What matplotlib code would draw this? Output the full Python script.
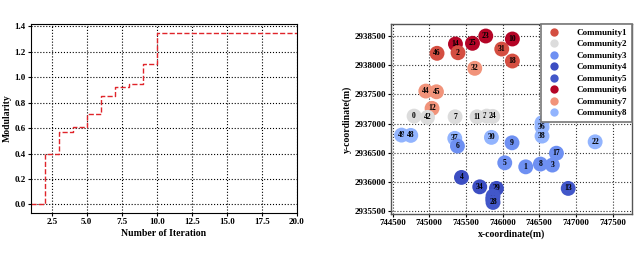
import numpy as np
import matplotlib
matplotlib.use("Agg")
import matplotlib.pyplot as plt
from matplotlib.lines import Line2D
from matplotlib.ticker import FormatStrFormatter

plt.rcParams['font.family'] = ['Liberation Serif', 'DejaVu Serif']
plt.rcParams['font.weight'] = 'bold'

# left panel: modularity per iteration
iteration = list(range(1, 21))
modularity = [0.0, 0.40, 0.57, 0.61, 0.71, 0.85, 0.92, 0.95, 1.10, 1.35,
              1.35, 1.35, 1.35, 1.35, 1.35, 1.35, 1.35, 1.35, 1.35, 1.35]

# right panel: nodes
node_id = [46, 14, 2, 25, 23, 31, 10, 18, 32, 16,
           44, 45, 12, 0, 42, 7, 11, 20, 24,
           49, 48, 37, 6, 30, 9, 35, 36, 38, 22,
           17, 5, 1, 8, 3, 4, 34, 29, 40, 43, 28, 13]
node_x = [745107, 745358, 745393, 745590, 745771, 745989, 746134, 746134, 745621, 746629,
          744954, 745099, 745039, 744794, 744977, 745353, 745652, 745784, 745866,
          744623, 744749, 745349, 745385, 745848, 746129, 746538, 746538, 746538, 747262,
          746734, 746030, 746316, 746516, 746679, 745440, 745689, 745917, 745870, 745866, 745870, 746895]
node_y = [2938204, 2938363, 2938214, 2938375, 2938500, 2938277, 2938449, 2938072, 2937947, 2938346,
          2937558, 2937546, 2937262, 2937130, 2937108, 2937118, 2937118, 2937130, 2937125,
          2936805, 2936800, 2936749, 2936617, 2936766, 2936673, 2937016, 2936942, 2936788, 2936690,
          2936495, 2936331, 2936262, 2936309, 2936292, 2936081, 2935920, 2935893, 2935761, 2935709, 2935653, 2935893]
node_comm = [1, 6, 1, 6, 6, 1, 6, 1, 7, 6,
             7, 7, 7, 2, 2, 2, 2, 2, 2,
             8, 8, 8, 3, 8, 3, 8, 8, 8, 8,
             3, 3, 3, 3, 3, 4, 4, 4, 5, 5, 5, 5]

comm_colors = {1: '#d44e41', 2: '#dcdcdc', 3: '#6e90f2', 4: '#3c4ec2',
               5: '#4257c9', 6: '#b40426', 7: '#f1937a', 8: '#92b4fe'}

fig = plt.figure(figsize=(6.4, 2.64), dpi=100)

ax1 = fig.add_axes([0.048, 0.193, 0.416, 0.716])
ax1.step(iteration, modularity, where='post', color='#e0242a', ls='--', lw=1.0)
ax1.set_xlim(1, 20)
ax1.set_ylim(-0.0675, 1.4175)
ax1.set_xticks([2.5, 5.0, 7.5, 10.0, 12.5, 15.0, 17.5, 20.0])
ax1.set_yticks(np.arange(0, 1.41, 0.2))
ax1.grid(True, color='black', ls=':', lw=0.8)
ax1.tick_params(labelsize=6.5, length=2, pad=1.5)
ax1.set_xlabel('Number of Iteration', fontsize=7, fontweight='bold', labelpad=2)
ax1.set_ylabel('Modularity', fontsize=7, fontweight='bold', labelpad=2)

ax2 = fig.add_axes([0.611, 0.19, 0.376, 0.719])
for i in range(len(node_id)):
    z = 3 + 2 * i
    ax2.scatter(node_x[i], node_y[i], s=115, color=comm_colors[node_comm[i]],
                edgecolors='none', zorder=z)
    ax2.text(node_x[i], node_y[i], str(node_id[i]), fontsize=5.5, fontweight='bold',
             ha='center', va='center', color='black', zorder=z + 1)
ax2.set_xlim(744480, 747760)
ax2.set_ylim(2935458, 2938705)
ax2.set_xticks(np.arange(744500, 747501, 500))
ax2.set_yticks(np.arange(2935500, 2938501, 500))
ax2.xaxis.set_major_formatter(FormatStrFormatter('%d'))
ax2.yaxis.set_major_formatter(FormatStrFormatter('%d'))
ax2.grid(True, color='#333333', ls=':', lw=0.8, zorder=0)
ax2.set_axisbelow(True)
ax2.tick_params(labelsize=6.5, length=2, pad=1.5)
for sp in ax2.spines.values():
    sp.set_color('#555555')
    sp.set_linewidth(1.0)
ax2.set_xlabel('x-coordinate(m)', fontsize=7, fontweight='bold', labelpad=2)
ax2.set_ylabel('y-coordinate(m)', fontsize=7, fontweight='bold', labelpad=2)

handles = [Line2D([0], [0], marker='o', ls='none', markersize=6,
                  markerfacecolor=comm_colors[c], markeredgecolor='none')
           for c in range(1, 9)]
labels = ['Community%d' % c for c in range(1, 9)]
leg = ax2.legend(handles, labels, loc='upper right', fontsize=6.5, framealpha=1,
                 fancybox=False, edgecolor='#777777', borderaxespad=0,
                 handletextpad=1.5, labelspacing=0.35, borderpad=0.5)
leg.get_frame().set_linewidth(1.2)
leg.set_zorder(1000)

fig.savefig('out.png', dpi=100)
